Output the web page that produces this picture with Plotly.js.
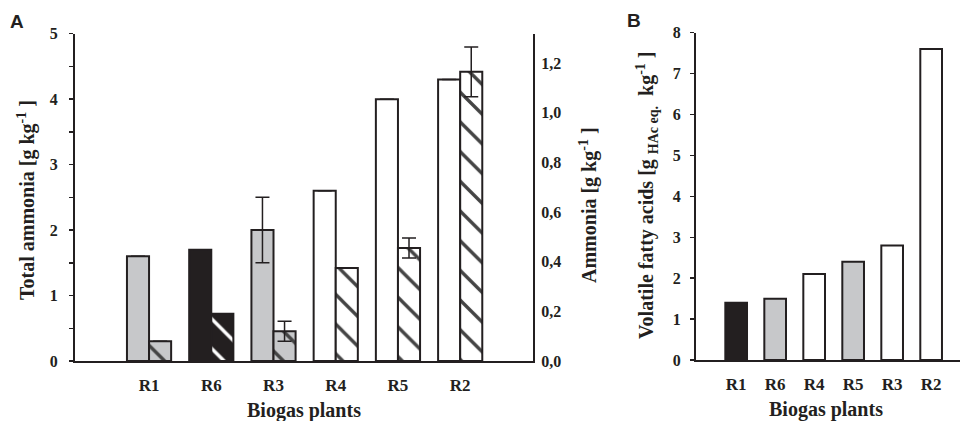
<!DOCTYPE html>
<html><head><meta charset="utf-8">
<script src="https://cdn.plot.ly/plotly-3.0.1.min.js"></script>
<style>html,body{margin:0;padding:0;background:#fff}</style>
</head><body><div id="chart" style="width:960px;height:421px"></div>
<script>
// ---- data ----
const plantsA = ['R1', 'R6', 'R3', 'R4', 'R5', 'R2'];
const totalAmmonia = [1.6, 1.7, 2.0, 2.6, 4.0, 4.3];
const totalAmmoniaErr = [0, 0, 0.5, 0, 0, 0];
const ammonia = [0.08, 0.19, 0.12, 0.375, 0.455, 1.165];
const ammoniaErr = [0, 0, 0.04, 0, 0.04, 0.1];
const plantsB = ['R1', 'R6', 'R4', 'R5', 'R3', 'R2'];
const vfa = [1.4, 1.5, 2.1, 2.4, 2.8, 7.6];

// ---- styles ----
const GRAY = '#c7c8ca', BLACK = '#231f20', WHITE = '#ffffff';
const colorsA = [GRAY, BLACK, GRAY, WHITE, WHITE, WHITE];
const hatchA = [BLACK, WHITE, BLACK, BLACK, BLACK, BLACK];
const colorsB = [BLACK, GRAY, WHITE, GRAY, WHITE, WHITE];

const W = 960, H = 421;
const px = v => v / W, py = v => 1 - v / H;
const serif = 'Liberation Serif';
const tickFont = s => ({family: serif, size: s, color: BLACK, weight: 'bold'});
const outline = {color: BLACK, width: 2};
const errStyle = {type: 'data', color: BLACK, thickness: 1.5, width: 7};

const traces = [
  {type: 'bar', x: plantsA, y: totalAmmonia, xaxis: 'x', yaxis: 'y',
   width: 0.355, offset: -0.355,
   marker: {color: colorsA, line: outline},
   error_y: Object.assign({array: totalAmmoniaErr}, errStyle),
   hoverinfo: 'x+y'},
  {type: 'bar', x: plantsA, y: ammonia, xaxis: 'x', yaxis: 'y2',
   width: 0.355, offset: 0,
   marker: {color: colorsA, line: outline,
            pattern: {shape: '\\', fgcolor: hatchA, bgcolor: colorsA, fgopacity: 1,
                      fillmode: 'overlay', size: 21, solidity: 0.16}},
   error_y: Object.assign({array: ammoniaErr}, errStyle),
   hoverinfo: 'x+y'},
  {type: 'bar', x: plantsB, y: vfa, xaxis: 'x2', yaxis: 'y3',
   width: 0.556,
   marker: {color: colorsB, line: outline},
   hoverinfo: 'x+y'}
];

const axCommon = {showline: true, linecolor: BLACK, linewidth: 2, showgrid: false, zeroline: false, fixedrange: true};
const yA = [py(361), py(33.7)];
const yB = [py(360), py(32.7)];

const annFont = s => ({family: serif, size: s, color: BLACK, weight: 'bold'});
const ann = (text, x, y, extra) => Object.assign({text: text, x: px(x), y: py(y), xref: 'paper', yref: 'paper',
  xanchor: 'center', yanchor: 'middle', showarrow: false, font: annFont(20)}, extra || {});
const layout = {
  width: W, height: H,
  margin: {l: 0, r: 0, t: 0, b: 0},
  paper_bgcolor: WHITE, plot_bgcolor: 'rgba(0,0,0,0)',
  showlegend: false,
  barmode: 'overlay',
  separators: ',.',
  xaxis: Object.assign({}, axCommon, {domain: [px(75), px(533)], anchor: 'y', type: 'category',
    range: [-1.19, 6.17], ticks: '', tickfont: tickFont(17), ticklabelstandoff: 8}),
  yaxis: Object.assign({}, axCommon, {domain: yA, anchor: 'x', range: [0, 5], dtick: 1,
    ticks: 'outside', ticklen: 4, tickwidth: 1.5, tickcolor: BLACK, tickfont: tickFont(16), ticklabelstandoff: 8,
    minor: {dtick: 0.5, ticks: 'outside', ticklen: 4, tickwidth: 1.5, tickcolor: BLACK}}),
  yaxis2: Object.assign({}, axCommon, {overlaying: 'y', side: 'right', anchor: 'x', range: [0, 1.3185],
    dtick: 0.2, tickformat: '.1f', ticks: '', tickfont: tickFont(16), ticklabelstandoff: 3}),
  xaxis2: Object.assign({}, axCommon, {domain: [px(696), 1], anchor: 'y3', type: 'category',
    range: [-1.03, 5.74], ticks: '', tickfont: tickFont(17), ticklabelstandoff: 8}),
  yaxis3: Object.assign({}, axCommon, {domain: yB, anchor: 'x2', range: [0, 8], dtick: 1,
    ticks: 'outside', ticklen: 4, tickwidth: 1.5, tickcolor: BLACK, tickfont: tickFont(16), ticklabelstandoff: 6}),
  annotations: [
    ann('A', 17, 22, {font: {family: 'Liberation Sans', size: 19, color: BLACK, weight: 'bold'}}),
    ann('B', 634, 21, {font: {family: 'Liberation Sans', size: 19, color: BLACK, weight: 'bold'}}),
    ann('Total ammonia [g kg<sup>-1</sup> ]', 26, 200, {textangle: -90}),
    ann('Ammonia [g kg<sup>-1</sup> ]', 588, 205, {textangle: -90}),
    ann('Volatile fatty acids [g <sub>HAc eq.</sub>  kg<sup>-1</sup> ]', 647, 196, {textangle: -90}),
    ann('Biogas plants', 304, 410),
    ann('Biogas plants', 826, 409)
  ]
};

Plotly.newPlot('chart', traces, layout, {displayModeBar: false, staticPlot: true});
</script>
</body></html>
